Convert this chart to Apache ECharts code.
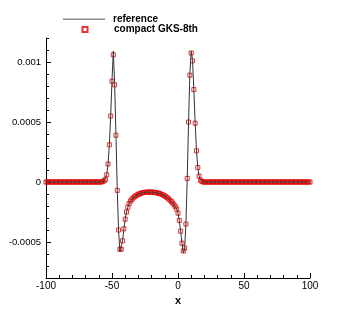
<!DOCTYPE html>
<html><head><meta charset="utf-8">
<script src="https://cdn.jsdelivr.net/npm/echarts@6/dist/echarts.min.js"></script>
<style>html,body{margin:0;padding:0;background:#fff}#c{width:353px;height:314px}</style>
</head><body><div id="c"></div>
<script>
var xs = [-100,-99,-98,-97,-96,-95,-94,-93,-92,-91,-90,-89,-88,-87,-86,-85,-84,-83,-82,-81,
-80,-79,-78,-77,-76,-75,-74,-73,-72,-71,-70,-69,-68,-67,-66,-65,-64,-63,-62,-61,
-60,-59,-58,-57,-56,-55,-54,-53,-52,-51,-50,-49,-48,-47,-46,-45,-44,-43,-42,-41,
-40,-39,-38,-37,-36,-35,-34,-33,-32,-31,-30,-29,-28,-27,-26,-25,-24,-23,-22,-21,
-20,-19,-18,-17,-16,-15,-14,-13,-12,-11,-10,-9,-8,-7,-6,-5,-4,-3,-2,-1,
0,1,2,3,4,5,6,7,8,9,10,11,12,13,14,15,16,17,18,19,
20,21,22,23,24,25,26,27,28,29,30,31,32,33,34,35,36,37,38,39,
40,41,42,43,44,45,46,47,48,49,50,51,52,53,54,55,56,57,58,59,
60,61,62,63,64,65,66,67,68,69,70,71,72,73,74,75,76,77,78,79,
80,81,82,83,84,85,86,87,88,89,90,91,92,93,94,95,96,97,98,99,100];

// compact GKS-8th (markers)
var gks = [0,0,0,0,0,0,0,0,0,0,0,0,0,0,0,0,0,0,0,0,
0,0,0,0,0,0,0,0,0,0,0,0,0,0,0,0,0,0,0,0,
0,0,0,0.000005,0.00001,0.00002,0.00006,0.00015,0.00031,0.00055,0.00084,0.00106,0.00081,0.00039,-0.00007,-0.0004,-0.00056,-0.00056,-0.00049,-0.00039,
-0.00031,-0.00025,-0.00021,-0.00018,-0.00016,-0.000145,-0.000133,-0.000123,-0.000115,-0.000108,-0.000102,-0.000097,-0.000093,-0.00009,-0.000088,-0.000086,-0.000085,-0.000084,-0.000084,-0.000084,
-0.000084,-0.000085,-0.000086,-0.000088,-0.00009,-0.000093,-0.000096,-0.0001,-0.000105,-0.00011,-0.000117,-0.000124,-0.000132,-0.000142,-0.000152,-0.000163,-0.000176,-0.00019,-0.000205,-0.000225,
-0.00026,-0.00032,-0.00041,-0.00051,-0.000575,-0.00055,-0.00035,0.00003,0.0005,0.00089,0.001075,0.00101,0.00077,0.00049,0.00026,0.00012,0.00005,0.000015,0.000005,0,
0,0,0,0,0,0,0,0,0,0,0,0,0,0,0,0,0,0,0,0,
0,0,0,0,0,0,0,0,0,0,0,0,0,0,0,0,0,0,0,0,
0,0,0,0,0,0,0,0,0,0,0,0,0,0,0,0,0,0,0,0,
0,0,0,0,0,0,0,0,0,0,0,0,0,0,0,0,0,0,0,0,0];

// reference solution (line)
var ref = [0,0,0,0,0,0,0,0,0,0,0,0,0,0,0,0,0,0,0,0,
0,0,0,0,0,0,0,0,0,0,0,0,0,0,0,0,0,0,0,0,
0,0,0,0.000005,0.00001,0.00002,0.00006,0.00015,0.00031,0.00055,0.00085,0.00109,0.00082,0.00039,-0.00007,-0.00041,-0.00058,-0.00058,-0.00049,-0.00039,
-0.00031,-0.00025,-0.00021,-0.00018,-0.00016,-0.000145,-0.000133,-0.000123,-0.000115,-0.000108,-0.000102,-0.000097,-0.000093,-0.00009,-0.000088,-0.000086,-0.000085,-0.000084,-0.000084,-0.000084,
-0.000084,-0.000085,-0.000086,-0.000088,-0.00009,-0.000093,-0.000096,-0.0001,-0.000105,-0.00011,-0.000117,-0.000124,-0.000132,-0.000142,-0.000152,-0.000163,-0.000176,-0.00019,-0.000205,-0.000225,
-0.00026,-0.00032,-0.00041,-0.00051,-0.00059,-0.00056,-0.00035,0.00003,0.0005,0.0009,0.00109,0.00102,0.00077,0.00049,0.00026,0.00012,0.00005,0.000015,0.000005,0,
0,0,0,0,0,0,0,0,0,0,0,0,0,0,0,0,0,0,0,0,
0,0,0,0,0,0,0,0,0,0,0,0,0,0,0,0,0,0,0,0,
0,0,0,0,0,0,0,0,0,0,0,0,0,0,0,0,0,0,0,0,
0,0,0,0,0,0,0,0,0,0,0,0,0,0,0,0,0,0,0,0,0];

var xTicks = [-100, -50, 0, 50, 100];
var yTicks = [-0.0005, 0, 0.0005, 0.001];
var yLabels = ['-0.0005', '0', '0.0005', '0.001'];

var FF = 'Liberation Sans, Arial, sans-serif';
var chart = echarts.init(document.getElementById('c'));
function gridBox() { return {left: 46, right: 43, top: 38, bottom: 36, containLabel: false, outerBoundsMode: 'none'}; }
chart.setOption({
  animation: false,
  backgroundColor: '#fff',
  grid: [gridBox(), gridBox()],
  legend: [{
    left: 63, top: 14.25, padding: 0, orient: 'vertical', itemWidth: 42, itemHeight: 1.5,
    textStyle: {fontSize: 10, fontWeight: 'bold', fontFamily: FF, color: '#000', padding: [0,0,0,3]},
    data: [{name: 'reference', icon: 'rect', itemStyle: {color: '#8c8c8c'}}], selectedMode: false
  }, {
    left: 81.5, top: 24.5, padding: 0, orient: 'vertical', itemWidth: 5, itemHeight: 5,
    textStyle: {fontSize: 10, fontWeight: 'bold', fontFamily: FF, color: '#000', padding: [0,0,0,21.5]},
    data: ['compact GKS-8th'], selectedMode: false
  }],
  xAxis: [{
    type: 'value', min: -100, max: 100, interval: 50, gridIndex: 0,
    name: 'x', nameLocation: 'middle', nameGap: 11,
    nameTextStyle: {fontSize: 11, fontWeight: 'bold', fontFamily: FF, color: '#000'},
    axisLine: {show: true, onZero: false, lineStyle: {color: '#000', width: 1}},
    axisTick: {show: true, inside: true, length: 5, lineStyle: {color: '#000'}},
    minorTick: {show: true, splitNumber: 5, length: 3, lineStyle: {color: '#000'}},
    axisLabel: {fontSize: 10, fontFamily: FF, color: '#000', margin: 3,
      customValues: xTicks, formatter: function (v) { return String(v); }},
    splitLine: {show: false}
  }, {
    type: 'value', min: -100, max: 100, gridIndex: 1, show: false,
    axisLine: {onZero: false}
  }],
  yAxis: [{
    type: 'value', min: -0.0008, max: 0.0012, interval: 0.0001, gridIndex: 0,
    name: 'pressure perturbation', nameLocation: 'middle', nameGap: 31,
    nameTextStyle: {fontSize: 11, fontWeight: 'bold', fontFamily: FF, color: '#000'},
    axisLine: {show: true, onZero: false, lineStyle: {color: '#000', width: 1}},
    axisTick: {show: true, inside: true, length: 3, lineStyle: {color: '#000'}},
    axisLabel: {fontSize: 9.5, fontFamily: FF, color: '#000', margin: 5,
      customValues: yTicks,
      formatter: function (v) { var i = yTicks.indexOf(v); return i >= 0 ? yLabels[i] : ''; }},
    splitLine: {show: false}
  }, {
    type: 'value', min: -0.0008, max: 0.0012, gridIndex: 1, position: 'left',
    axisLine: {show: false, onZero: false},
    axisTick: {show: true, inside: true, length: 5, customValues: yTicks, lineStyle: {color: '#000'}},
    axisLabel: {show: false},
    splitLine: {show: false}
  }],
  series: [{
    name: 'reference', type: 'line', xAxisIndex: 0, yAxisIndex: 0,
    data: xs.map(function (x, i) { return [x, ref[i]]; }),
    symbol: 'none', z: 4,
    lineStyle: {color: '#333', width: 1},
    itemStyle: {color: '#333'}
  }, {
    name: 'compact GKS-8th', type: 'scatter', xAxisIndex: 0, yAxisIndex: 0,
    data: xs.map(function (x, i) { return [x, gks[i]]; }),
    symbol: 'rect', symbolSize: 4, z: 3,
    itemStyle: {color: 'rgba(0,0,0,0)', borderColor: '#e00000', borderWidth: 1}
  }]
});
</script></body></html>
